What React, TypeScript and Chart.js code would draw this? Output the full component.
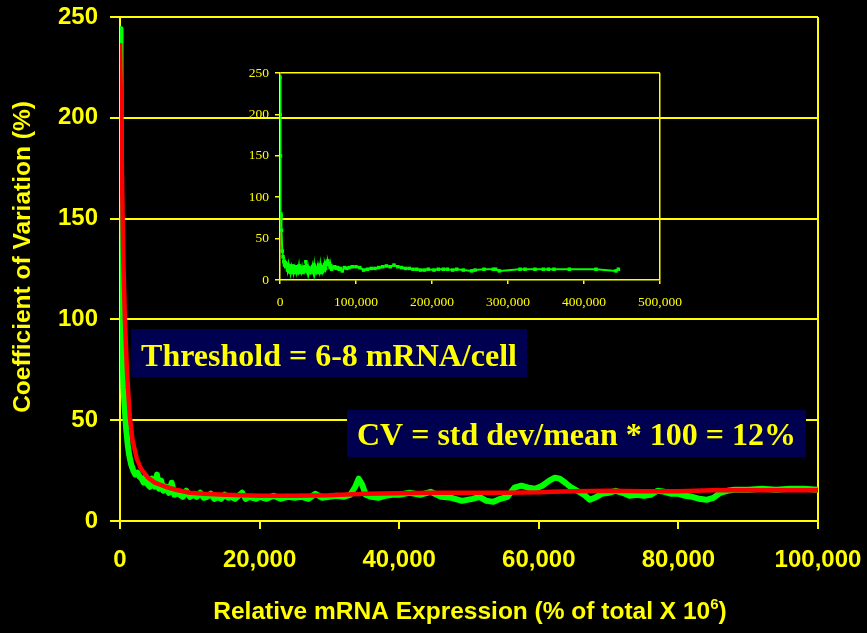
import React, { useEffect, useRef } from 'react';
import { Chart, registerables } from 'chart.js';
Chart.register(...registerables);

// ---------- data ----------
const X_TICKS = [0, 20000, 40000, 60000, 80000, 100000];
const Y_TICKS = [0, 50, 100, 150, 200, 250];
const INSET_X_TICKS = [0, 100000, 200000, 300000, 400000, 500000];
const INSET_Y_TICKS = [0, 50, 100, 150, 200, 250];

const GREEN_X = [
  0, 50, 100, 150, 200, 300, 400, 500, 700, 900, 1100, 1300, 1600, 1900, 2200, 2500, 2800, 3100, 3400, 3700,
  4000, 4300, 4600, 5000, 5300, 5600, 5900, 6200, 6600, 7000, 7400, 7800, 8200, 8600, 9000, 9500, 10000, 10500,
  11000, 11500, 12000, 12500, 13000, 13500, 14000, 14500, 15000, 15500, 16000, 16500, 17000, 17500, 18000, 18500,
  19000, 19500, 20000, 21000, 22000, 23000, 24000, 25000, 26000, 27000, 28000, 29000, 30000, 31000, 32000, 33000,
  33700, 34200, 34700, 35200, 36000, 37000, 38000, 39000, 40000, 41500, 43000, 44500, 46000, 47500, 49000, 50500,
  51500, 52500, 53500, 54500, 55500, 56500, 57500, 58500, 59500, 60500, 61500, 62300, 63000, 63800, 64500, 65500,
  66500, 67300, 68000, 69000, 70000, 71000, 72000, 73000, 74000, 75000, 76000, 77000, 78000, 79000, 80000, 81000,
  82000, 83000, 84000, 85000, 86000, 87000, 88000, 90000, 92000, 94000, 96000, 98000, 100000,
];
const GREEN_Y = [
  244, 228, 185, 140, 112, 92, 78, 66, 55, 45, 38, 33, 28, 25, 23, 24, 22, 21, 19, 22,
  18, 17, 21, 17, 23, 16, 20, 15, 17, 14, 19, 13, 14, 13, 12, 15, 12, 13,
  12, 14, 11.5, 12, 13.5, 11, 12, 11, 13, 11.5, 12, 11, 12.5, 14, 11, 12,
  11.5, 11, 12, 11, 12.5, 11, 12, 11.5, 12, 11, 13.5, 11.5, 12, 12.5, 12, 13,
  17, 21, 18, 13, 12, 11.5, 12.5, 13, 13, 14, 13, 14.5, 12, 11.5, 10, 11,
  12, 10, 9.5, 11, 12, 16.5, 17.5, 16.5, 16, 17.5, 20, 21.5, 21, 19, 17, 15,
  13, 10.5, 11.5, 13.5, 14, 15, 14, 12.5, 13, 12.5, 13, 15, 14.5, 13.5, 13.5, 12.5,
  12, 11, 10.5, 11.5, 14, 15, 15.5, 15.5, 16, 15.5, 16, 16, 15.5,
];

const RED_X = [
  0, 150, 300, 450, 700, 1000, 1400, 1800, 2400, 3000, 4000, 5000, 6500, 8000, 10000, 12000, 15000, 20000,
  25000, 30000, 35000, 40000, 45000, 50000, 55000, 60000, 62000, 65000, 70000, 75000, 80000, 85000, 90000,
  95000, 100000,
];
const RED_Y = [
  237, 205, 168, 133, 100, 74, 52, 40, 31, 26, 21.5, 19, 17, 15.5, 14, 13.5, 13, 12.5,
  12.5, 12.8, 13.5, 13.8, 14, 14, 14, 14.2, 14.5, 14.8, 15, 14.8, 14.8, 15.2, 15.2,
  15.2, 15.2,
];

const INSET_X = [
  0, 300, 600, 1000, 1500, 2000, 3000, 4000, 5000, 6000, 7000, 8000, 9000, 10000, 11000, 12000, 13000, 14000,
  15000, 16000, 17000, 18000, 19000, 20000, 21000, 22000, 23000, 24000, 25000, 26000, 27000, 28000, 29000, 30000,
  31000, 32000, 33000, 34000, 35000, 36000, 37000, 38000, 39000, 40000, 41000, 42000, 43000, 44000, 45000, 46000,
  47000, 48000, 49000, 50000, 51000, 52000, 53000, 54000, 55000, 56000, 57000, 58000, 59000, 60000, 61000, 62000,
  63000, 64000, 65000, 66000, 67000, 68000, 70000, 72000, 74000, 76000, 78000, 80000, 82000, 85000, 88000, 91000,
  95000, 100000, 105000, 110000, 115000, 120000, 125000, 130000, 135000, 140000, 145000, 150000, 155000, 160000,
  165000, 170000, 175000, 180000, 185000, 190000, 195000, 202600, 208300, 214900, 220200, 227200, 232500, 241200,
  252200, 256600, 268400, 280700, 283800, 288600, 315800, 322400, 335500, 346500, 353100, 360500, 380700, 415800,
  442100, 445200,
];
const INSET_Y = [
  245, 200, 150, 80, 78, 60, 35, 28, 22, 18, 21, 16, 19, 12, 18, 10, 17, 9,
  15, 10, 17, 9, 14, 10, 16, 9, 13, 10, 17, 9, 14, 10, 15, 9,
  14, 11, 16, 22, 17, 10, 15, 9, 13, 10, 14, 9, 16, 10, 18, 9,
  13, 10, 15, 9, 14, 10, 18, 9, 13, 10, 16, 12, 18, 14, 21, 19,
  23, 20, 18, 15, 17, 13, 15, 16, 14, 15, 13, 14, 11, 15, 14, 15,
  16, 16, 15, 12, 13, 14, 14, 15, 16, 17, 16, 18, 16, 15,
  14, 14, 13, 13, 12, 12, 13, 12, 13, 13, 13, 12, 13, 12,
  11, 12, 13, 13, 13, 11, 13, 13, 13, 13, 13, 13, 13, 13,
  11, 13,
];

const Y_TITLE = 'Coefficient of Variation (%)';
const X_TITLE_MAIN = 'Relative mRNA Expression (% of total X 10';
const X_TITLE_SUP = '6';
const X_TITLE_END = ')';
const NOTE_1 = 'Threshold = 6-8 mRNA/cell';
const NOTE_2 = 'CV = std dev/mean * 100 = 12%';

// ---------- styles ----------
const YELLOW = '#FFFF00';
const GREEN = '#00FF00';
const RED = '#FF0000';
const NAVY = '#000050';
const SANS = '"Liberation Sans", Arial, sans-serif';
const SERIF = '"Liberation Serif", "Times New Roman", serif';

const pts = (xs: number[], ys: number[]) => xs.map((x, i) => ({ x, y: ys[i] }));
const fmt = (v: number) => Number(v).toLocaleString('en-US');

const mainDecor = {
  id: 'mainDecor',
  beforeDraw(chart: any) {
    const { ctx, width, height } = chart;
    ctx.save();
    ctx.fillStyle = '#000';
    ctx.fillRect(0, 0, width, height);
    ctx.restore();
  },
  afterDatasetsDraw(chart: any) {
    const ctx = chart.ctx;
    const box = (x: number, y: number, w: number, h: number, text: string, base: number) => {
      ctx.save();
      ctx.fillStyle = NAVY;
      ctx.fillRect(x, y, w, h);
      ctx.fillStyle = YELLOW;
      ctx.font = `bold 32px ${SERIF}`;
      ctx.textAlign = 'center';
      ctx.textBaseline = 'alphabetic';
      ctx.fillText(text, x + w / 2, base);
      ctx.restore();
    };
    box(131, 329, 396, 48, NOTE_1, 366);
    box(347, 410, 459, 47, NOTE_2, 445);
  },
  afterDraw(chart: any) {
    const ctx = chart.ctx;
    ctx.save();
    ctx.fillStyle = YELLOW;
    ctx.font = `bold 24.5px ${SANS}`;
    ctx.translate(23, 257);
    ctx.rotate(-Math.PI / 2);
    ctx.textAlign = 'center';
    ctx.textBaseline = 'middle';
    ctx.fillText(Y_TITLE, 0, 0);
    ctx.restore();

    ctx.save();
    ctx.fillStyle = YELLOW;
    ctx.textBaseline = 'alphabetic';
    ctx.textAlign = 'left';
    const fMain = `bold 24.5px ${SANS}`;
    const fSup = `bold 15px ${SANS}`;
    ctx.font = fMain;
    const w1 = ctx.measureText(X_TITLE_MAIN).width;
    const w3 = ctx.measureText(X_TITLE_END).width;
    ctx.font = fSup;
    const w2 = ctx.measureText(X_TITLE_SUP).width;
    let x = 470 - (w1 + w2 + w3) / 2;
    const base = 619;
    ctx.font = fMain;
    ctx.fillText(X_TITLE_MAIN, x, base);
    x += w1;
    ctx.font = fSup;
    ctx.fillText(X_TITLE_SUP, x, base - 10);
    x += w2;
    ctx.font = fMain;
    ctx.fillText(X_TITLE_END, x, base);
    ctx.restore();
  },
};

export default function App() {
  const mainRef = useRef<HTMLCanvasElement>(null);
  const insetRef = useRef<HTMLCanvasElement>(null);

  useEffect(() => {
    document.body.style.margin = '0';
    document.body.style.background = '#000';
    const main = new Chart(mainRef.current as HTMLCanvasElement, {
      type: 'line',
      data: {
        datasets: [
          { data: pts(RED_X, RED_Y), borderColor: RED, borderWidth: 4.5, borderJoinStyle: 'round', pointRadius: 0, tension: 0, order: 0 },
          { data: pts(GREEN_X, GREEN_Y), borderColor: GREEN, borderWidth: 6, borderJoinStyle: 'round', pointRadius: 0, tension: 0, order: 1 },
        ],
      },
      options: {
        animation: false,
        responsive: false,
        devicePixelRatio: 1,
        layout: { padding: { left: 0, top: 17, right: 49, bottom: 0 } },
        plugins: { legend: { display: false }, tooltip: { enabled: false }, title: { display: false } },
        scales: {
          x: {
            type: 'linear',
            min: 0,
            max: 100000,
            afterBuildTicks: (s: any) => { s.ticks = X_TICKS.map((v) => ({ value: v })); },
            afterFit: (s: any) => { s.height = 112; s.paddingLeft = 0; s.paddingRight = 0; },
            ticks: {
              color: YELLOW,
              font: { family: SANS, size: 24, weight: 'bold' },
              padding: 17,
              maxRotation: 0,
              autoSkip: false,
              callback: (v: any) => fmt(v),
            },
            grid: {
              color: (c: any) => (c.tick && c.tick.value === 100000 ? YELLOW : 'rgba(0,0,0,0)'),
              tickColor: YELLOW,
              tickLength: 8,
              lineWidth: 2,
            },
            border: { display: true, color: YELLOW, width: 2 },
          },
          y: {
            type: 'linear',
            min: 0,
            max: 250,
            afterBuildTicks: (s: any) => { s.ticks = Y_TICKS.map((v) => ({ value: v })); },
            afterFit: (s: any) => { s.width = 120; s.paddingTop = 0; s.paddingBottom = 0; },
            ticks: {
              color: YELLOW,
              font: { family: SANS, size: 24, weight: 'bold' },
              padding: 12,
              autoSkip: false,
            },
            grid: { color: YELLOW, lineWidth: 2, tickLength: 10 },
            border: { display: true, color: YELLOW, width: 2 },
          },
        },
      },
      plugins: [mainDecor],
    } as any);

    const inset = new Chart(insetRef.current as HTMLCanvasElement, {
      type: 'line',
      data: {
        datasets: [
          {
            data: pts(INSET_X, INSET_Y),
            borderColor: GREEN,
            borderWidth: 2,
            pointRadius: 2.5,
            pointStyle: 'rect',
            pointBackgroundColor: GREEN,
            pointBorderWidth: 0,
            tension: 0,
          },
        ],
      },
      options: {
        animation: false,
        responsive: false,
        devicePixelRatio: 1,
        layout: { padding: { left: 0, top: 18, right: 30, bottom: 0 } },
        plugins: { legend: { display: false }, tooltip: { enabled: false }, title: { display: false } },
        scales: {
          x: {
            type: 'linear',
            min: 0,
            max: 500000,
            afterBuildTicks: (s: any) => { s.ticks = INSET_X_TICKS.map((v) => ({ value: v })); },
            afterFit: (s: any) => { s.height = 35; s.paddingLeft = 0; s.paddingRight = 0; },
            ticks: {
              color: YELLOW,
              font: { family: SERIF, size: 13.5 },
              padding: 10,
              maxRotation: 0,
              autoSkip: false,
              callback: (v: any) => fmt(v),
            },
            grid: {
              color: (c: any) => (c.tick && c.tick.value === 500000 ? YELLOW : 'rgba(0,0,0,0)'),
              tickColor: YELLOW,
              tickLength: 4,
              lineWidth: 1.5,
            },
            border: { display: true, color: YELLOW, width: 1.5 },
          },
          y: {
            type: 'linear',
            min: 0,
            max: 250,
            afterBuildTicks: (s: any) => { s.ticks = INSET_Y_TICKS.map((v) => ({ value: v })); },
            afterFit: (s: any) => { s.width = 50; s.paddingTop = 0; s.paddingBottom = 0; },
            ticks: {
              color: YELLOW,
              font: { family: SERIF, size: 13.5 },
              padding: 6,
              autoSkip: false,
            },
            grid: {
              color: (c: any) => (c.tick && c.tick.value === 250 ? YELLOW : 'rgba(0,0,0,0)'),
              tickColor: YELLOW,
              tickLength: 5,
              lineWidth: 1.5,
            },
            border: { display: true, color: YELLOW, width: 1.5 },
          },
        },
      },
    } as any);

    return () => {
      main.destroy();
      inset.destroy();
    };
  }, []);

  return (
    <div style={{ position: 'relative', width: 867, height: 633, background: '#000' }}>
      <canvas ref={mainRef} width={867} height={633} style={{ position: 'absolute', left: 0, top: 0 }} />
      <canvas ref={insetRef} width={460} height={260} style={{ position: 'absolute', left: 230, top: 55 }} />
    </div>
  );
}
